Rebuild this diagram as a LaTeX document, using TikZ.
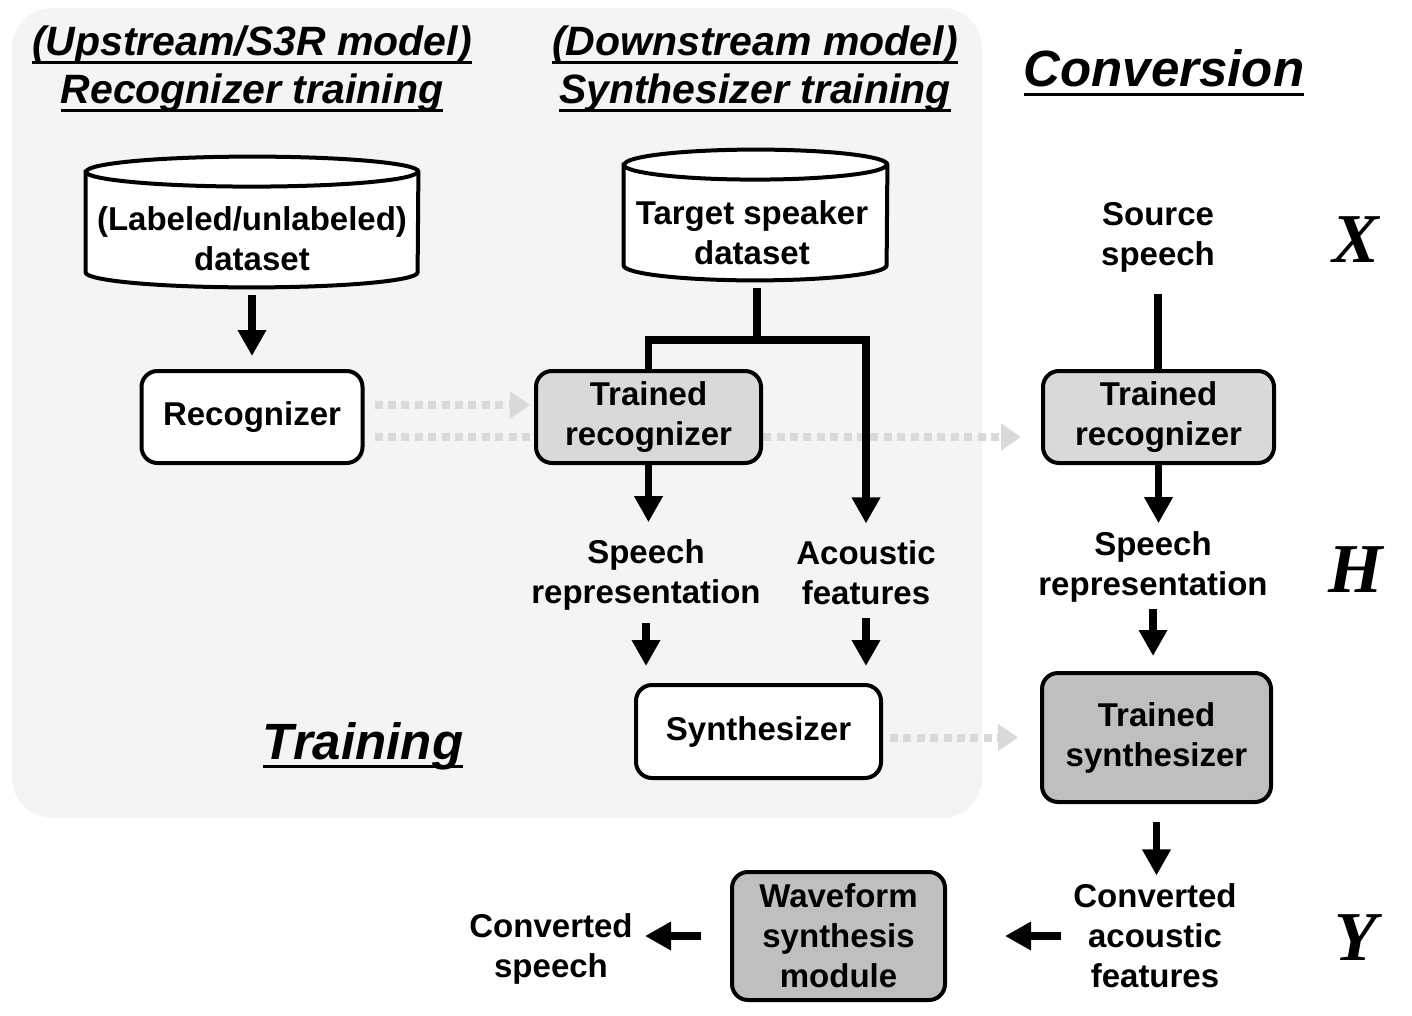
\documentclass[tikz,border=0pt]{standalone}
\usepackage{fontspec}
\setmainfont{Liberation Sans}
\newfontfamily\xhyfont{Liberation Serif}
\usetikzlibrary{arrows.meta,calc}
\definecolor{panel}{HTML}{F3F4F3}
\definecolor{lgray}{HTML}{D9D9D9}
\definecolor{mgray}{HTML}{BFBFBF}
\definecolor{dotgray}{HTML}{D9D9D9}
\newcommand\ulin[1]{\setbox0=\hbox{#1}\rlap{\rule[-4.5pt]{\wd0}{1.5pt}}\box0}
\begin{document}
\begin{tikzpicture}[x=0.5pt,y=-0.5pt,
  lbl/.style={font=\fontsize{16.5}{20}\selectfont\bfseries, align=center, inner sep=0pt},
  box/.style={lbl, draw=black, line width=2pt, rounded corners=8pt},
  hdr/.style={font=\fontsize{20.5}{24}\selectfont\bfseries\itshape, align=center, inner sep=0pt},
  big/.style={font=\fontsize{25.5}{30}\selectfont\bfseries\itshape, inner sep=0pt},
  var/.style={font=\xhyfont\fontsize{35}{40}\selectfont\bfseries\itshape, inner sep=0pt},
  cylbox/.style={inner sep=0pt, minimum height=65pt},
  cyl/.style={draw=black, line width=2pt, fill=white},
  conn/.style={line width=3.6pt},
  arr/.style={line width=3.6pt, -{Triangle[length=13pt,width=13.5pt]}},
  dotarr/.style={draw=dotgray, line width=4pt, dash pattern=on 4pt off 2.7pt, -{Triangle[length=10pt,width=13pt]}}
]
\useasboundingbox (0,0) rectangle (1412,1016);
% panel
\fill[panel, rounded corners=20pt] (12,8) rectangle (982,818);

% headers
\node[hdr] (h1) at (252,69) {\ulin{(Upstream/S3R model)}\\\ulin{Recognizer training}};
\node[hdr] (h2) at (755,69) {\ulin{(Downstream model)}\\\ulin{Synthesizer training}};
\node[big, anchor=base] (h3) at (1164,87) {\ulin{Conversion}};
\node[big, anchor=base] (h4) at (363,759) {\ulin{Training}};

% variables
\node[var] (vx) at (1356,240) {X};
\node[var] (vh) at (1356,570) {H};
\node[var] (vy) at (1356,938) {Y};

% cylinders
\node[cylbox, minimum width=166pt] (db1) at (252,222) {};
\draw[cyl] ([yshift=-7.5pt]db1.north west) -- ([yshift=7.5pt]db1.south west)
  arc[start angle=180,end angle=360,x radius=83pt,y radius=7.5pt]
  -- ([yshift=-7.5pt]db1.north east)
  arc[start angle=0,end angle=180,x radius=83pt,y radius=7.5pt] -- cycle;
\draw[cyl, fill=none] ([yshift=-7.5pt]db1.north west) arc[start angle=180,end angle=360,x radius=83pt,y radius=7.5pt];
\node[lbl] (db1t) at (252,239) {(Labeled/unlabeled)\\dataset};

\node[cylbox, minimum width=131.5pt] (db2) at (755.5,215) {};
\draw[cyl] ([yshift=-7.5pt]db2.north west) -- ([yshift=7.5pt]db2.south west)
  arc[start angle=180,end angle=360,x radius=65.75pt,y radius=7.5pt]
  -- ([yshift=-7.5pt]db2.north east)
  arc[start angle=0,end angle=180,x radius=65.75pt,y radius=7.5pt] -- cycle;
\draw[cyl, fill=none] ([yshift=-7.5pt]db2.north west) arc[start angle=180,end angle=360,x radius=65.75pt,y radius=7.5pt];
\node[lbl] (db2t) at (752,233) {Target speaker\\dataset};

% boxes
\node[box, fill=white, minimum width=110.5pt, minimum height=46pt] (rec) at (252,417) {Recognizer};
\node[box, fill=white, minimum width=122.5pt, minimum height=46.5pt] (syn) at (758.5,731.5) {Synthesizer};

% text labels
\node[lbl] (sr1) at (646,575) {Speech\\representation};
\node[lbl] (acf) at (866,573) {Acoustic\\features};
\node[lbl] (src) at (1158,237) {Source\\speech};
\node[lbl] (sr2) at (1153,567) {Speech\\representation};
\node[lbl] (caf) at (1155,936) {Converted\\acoustic\\features};
\node[lbl] (cs) at (551,949) {Converted\\speech};

% dotted transfer arrows (behind)
\draw[dotarr] ([xshift=5pt,yshift=6pt]rec.east) -- ([xshift=-3pt,yshift=6pt]rec.east -| 536,0);
\coordinate (trec2w) at (1043,417);
\draw[dotarr] ([xshift=5pt,yshift=-10pt]rec.east) -- ([xshift=-11pt,yshift=-10pt]trec2w);

% trained boxes
\node[box, fill=lgray, minimum width=112.5pt, minimum height=46pt] (trec1) at (648.5,417) {Trained\\recognizer};
\node[box, fill=lgray, minimum width=115.5pt, minimum height=46pt] (trec2) at (1158.5,417) {Trained\\recognizer};
\node[box, fill=mgray, minimum width=114.5pt, minimum height=64.5pt] (tsyn) at (1156.5,737.5) {Trained\\synthesizer};
\node[box, fill=mgray, minimum width=106.5pt, minimum height=64pt] (wsm) at (838.5,936) {Waveform\\synthesis\\module};

\draw[dotarr, shorten <=3.5pt, shorten >=11pt] (syn.east |- tsyn.west) -- (tsyn.west);

% connectors training
\draw[arr, shorten <=4pt, shorten >=6.5pt] (db1.south) -- (rec.north);
\coordinate (split) at (757,340);
\draw[conn, shorten <=4pt] (split |- db2.south) -- (split);
\draw[conn] (trec1.north) |- (split);
\draw[arr, shorten >=8.5pt] (split) -| (acf.north);
\draw[arr, shorten >=8.5pt] (trec1.south) -- (trec1.south |- sr1.north);
\draw[arr, shorten <=6pt, shorten >=8.5pt] (sr1.south) -- (sr1.south |- syn.north);
\draw[arr, shorten <=6pt, shorten >=8.5pt] (acf.south) -- (acf.south |- syn.north);

% connectors conversion
\draw[conn, shorten <=11pt] (src.south) -- (src.south |- trec2.north);
\draw[arr, shorten >=4pt] (trec2.south) -- (trec2.south |- sr2.north);
\draw[arr, shorten <=3pt, shorten >=7.5pt] (sr2.south) -- (sr2.south |- tsyn.north);
\draw[arr, shorten <=9pt, shorten >=4pt] (tsyn.south) -- (tsyn.south |- caf.north);
\draw[arr, shorten <=6pt, shorten >=29pt] (caf.west) -- (caf.west -| wsm.east);
\draw[arr, shorten <=14.5pt, shorten >=6pt] (wsm.west) -- (wsm.west -| cs.east);
\end{tikzpicture}
\end{document}
